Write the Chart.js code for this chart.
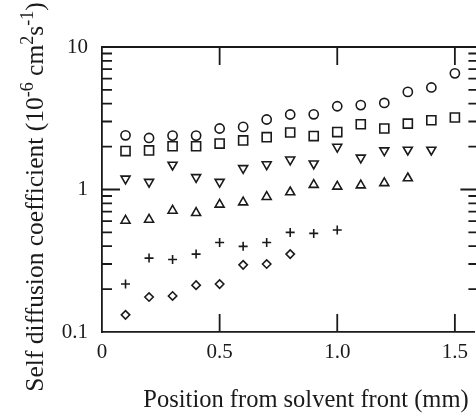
<!DOCTYPE html>
<html>
<head>
<meta charset="utf-8">
<script src="https://cdn.jsdelivr.net/npm/chart.js@4"></script>
<style>
  html, body { margin: 0; padding: 0; overflow: hidden; background: #fff; }
  canvas { display: block; }
</style>
</head>
<body>
<canvas id="chart" width="476" height="418"></canvas>
<script>
// positions along the sample (mm)
const positions = [0.1, 0.2, 0.3, 0.4, 0.5, 0.6, 0.7, 0.8, 0.9, 1.0, 1.1, 1.2, 1.3, 1.4, 1.5];

// self diffusion coefficients, one list per symbol
const circleValues = [2.40, 2.30, 2.39, 2.39, 2.68, 2.75, 3.10, 3.36, 3.37, 3.84, 3.91, 4.05, 4.84, 5.20, 6.53];
const squareValues = [1.86, 1.88, 2.01, 2.01, 2.10, 2.21, 2.33, 2.51, 2.37, 2.53, 2.87, 2.68, 2.90, 3.06, 3.20];
const downTriangleValues = [1.19, 1.13, 1.49, 1.22, 1.13, 1.41, 1.50, 1.62, 1.52, 1.99, 1.67, 1.88, 1.90, 1.90];
const upTriangleValues = [0.605, 0.615, 0.711, 0.685, 0.784, 0.814, 0.888, 0.957, 1.08, 1.05, 1.07, 1.11, 1.20];
const plusValues = [0.217, 0.330, 0.323, 0.352, 0.425, 0.399, 0.425, 0.500, 0.492, 0.520];
const diamondValues = [0.132, 0.176, 0.179, 0.213, 0.217, 0.296, 0.300, 0.352];

// axis ticks
const xTicks = [0, 0.5, 1.0, 1.5];
const xTickLabels = ['0', '0.5', '1.0', '1.5'];
const xFrameEnd = 1.6; // right frame sits just past the picture edge
const yTicks = [0.1, 1, 10];
const yTickLabels = ['0.1', '1', '10'];
const yMinorTicks = [0.2, 0.3, 0.4, 0.5, 0.6, 0.7, 0.8, 0.9, 1, 2, 3, 4, 5, 6, 7, 8, 9];

// axis titles (y title split for superscripts)
const xTitle = 'Position from solvent front (mm)';
const yTitleParts = [
    ['Self diffusion coefficient (10', false],
    ['-6', true],
    [' cm', false],
    ['2', true],
    ['s', false],
    ['-1', true],
    [')', false]
];

const ink = '#1a1a1a';
const serif = "'Liberation Serif', 'DejaVu Serif', serif";

function toPoints(values) {
    return values.map((v, i) => ({ x: positions[i], y: v }));
}

function series(values, style, radius, rotation) {
    return {
        data: toPoints(values),
        pointStyle: style,
        pointRadius: radius,
        pointRotation: rotation || 0,
        pointBorderColor: ink,
        pointBackgroundColor: 'rgba(0,0,0,0)',
        pointBorderWidth: 1.6,
        showLine: false
    };
}

// inward tick marks on all four sides, top frame line and axis titles
const frameTicks = {
    id: 'frameTicks',
    afterDatasetsDraw(chart) {
        const { ctx, chartArea: a, scales } = chart;
        const right = scales.x.getPixelForValue(xFrameEnd);
        ctx.save();
        ctx.strokeStyle = ink;
        ctx.lineWidth = 1.8;
        ctx.beginPath();
        ctx.moveTo(a.left, a.top);
        ctx.lineTo(right, a.top);
        xTicks.slice(1).forEach(v => {
            const px = scales.x.getPixelForValue(v);
            ctx.moveTo(px, a.bottom);
            ctx.lineTo(px, a.bottom - 18);
            ctx.moveTo(px, a.top);
            ctx.lineTo(px, a.top + 18);
        });
        yMinorTicks.forEach(v => {
            const py = scales.y.getPixelForValue(v);
            const len = yTicks.includes(v) ? 18 : 10;
            ctx.moveTo(a.left, py);
            ctx.lineTo(a.left + len, py);
            ctx.moveTo(right, py);
            ctx.lineTo(right - len, py);
        });
        ctx.stroke();

        ctx.fillStyle = ink;
        ctx.textBaseline = 'alphabetic';

        // x title
        ctx.font = '24.5px ' + serif;
        ctx.textAlign = 'center';
        ctx.fillText(xTitle, 306, 407);

        // y title, rotated, with raised exponents
        const big = '25.5px ' + serif;
        const small = '18px ' + serif;
        ctx.textAlign = 'left';
        let total = 0;
        yTitleParts.forEach(([t, sup]) => {
            ctx.font = sup ? small : big;
            total += ctx.measureText(t).width;
        });
        ctx.translate(43, 197);
        ctx.rotate(-Math.PI / 2);
        let cx = -total / 2;
        yTitleParts.forEach(([t, sup]) => {
            ctx.font = sup ? small : big;
            ctx.fillText(t, cx, sup ? -10 : 0);
            cx += ctx.measureText(t).width;
        });
        ctx.restore();
    }
};

new Chart(document.getElementById('chart'), {
    type: 'scatter',
    data: {
        datasets: [
            series(circleValues, 'circle', 4.6),
            series(squareValues, 'rect', 6.4),
            series(downTriangleValues, 'triangle', 5.2, 180),
            series(upTriangleValues, 'triangle', 5.2),
            series(plusValues, 'cross', 4.5),
            series(diamondValues, 'rectRot', 4.2)
        ]
    },
    options: {
        responsive: false,
        maintainAspectRatio: false,
        devicePixelRatio: 1,
        animation: false,
        layout: { autoPadding: false, padding: { top: 47, right: 0, left: 0, bottom: 0 } },
        plugins: {
            legend: { display: false },
            tooltip: { enabled: false }
        },
        scales: {
            x: {
                type: 'linear',
                position: 'bottom',
                min: 0,
                max: 1.585,
                afterBuildTicks: s => { s.ticks = xTicks.map(v => ({ value: v })); },
                afterFit: s => { s.height = 86; },
                ticks: {
                    callback: v => xTickLabels[xTicks.indexOf(v)],
                    font: { family: serif, size: 21 },
                    color: ink,
                    padding: 8,
                    maxRotation: 0
                },
                grid: { display: false, drawTicks: false, tickLength: 0 },
                border: { display: true, color: ink, width: 1.8 }
            },
            y: {
                type: 'logarithmic',
                min: 0.1,
                max: 10,
                afterBuildTicks: s => { s.ticks = yTicks.map(v => ({ value: v })); },
                afterFit: s => { s.width = 102; },
                ticks: {
                    callback: v => yTickLabels[yTicks.indexOf(v)],
                    font: { family: serif, size: 21 },
                    color: ink,
                    padding: 14
                },
                grid: { display: false, drawTicks: false, tickLength: 0 },
                border: { display: true, color: ink, width: 1.8 }
            }
        }
    },
    plugins: [frameTicks]
});
</script>
</body>
</html>
